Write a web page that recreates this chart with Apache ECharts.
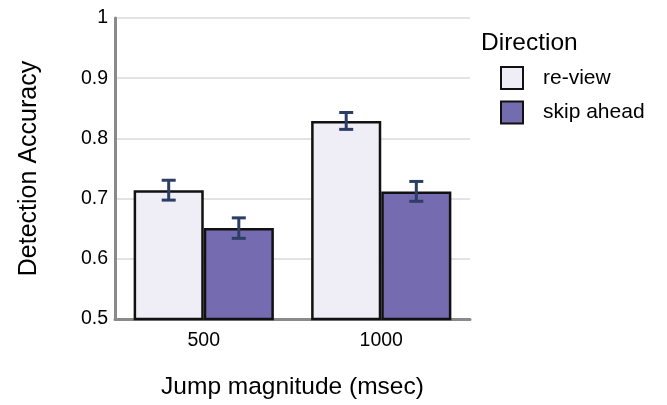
<!DOCTYPE html>
<html>
<head>
<meta charset="utf-8">
<script src="https://cdn.jsdelivr.net/npm/echarts@6/dist/echarts.min.js"></script>
<style>
  html, body { margin: 0; padding: 0; background: #ffffff; }
  #chart { width: 667px; height: 405px; }
</style>
</head>
<body>
<div id="chart"></div>
<script>
// Jump magnitudes (msec) on the x axis
const categories = ['500', '1000'];
// Mean detection accuracy per direction, with standard-error half widths
const reviewValues = [0.714, 0.829];
const reviewErrors = [0.0165, 0.014];
const skipValues = [0.651, 0.712];
const skipErrors = [0.017, 0.0165];
const seriesNames = ['re-view', 'skip ahead'];
const yTicks = [0.5, 0.6, 0.7, 0.8, 0.9, 1];

const FONT = '"Liberation Sans", Arial, Helvetica, sans-serif';
const CAT_GAP = 0.21;

// error-bar rows: [category index, low, high, side (-1 left bar, +1 right bar)]
const errorRows = [];
categories.forEach((c, i) => {
  errorRows.push([i, reviewValues[i] - reviewErrors[i], reviewValues[i] + reviewErrors[i], -1]);
  errorRows.push([i, skipValues[i] - skipErrors[i], skipValues[i] + skipErrors[i], 1]);
});

const chart = echarts.init(document.getElementById('chart'), null, { renderer: 'canvas' });

chart.setOption({
  backgroundColor: '#ffffff',
  animation: false,
  textStyle: { fontFamily: FONT },
  title: {
    text: 'Direction',
    left: 481,
    top: 31,
    padding: 0,
    textStyle: { fontFamily: FONT, fontSize: 24.5, fontWeight: 'normal', color: '#000' }
  },
  legend: {
    data: seriesNames,
    orient: 'vertical',
    left: 500,
    top: 66,
    padding: 0,
    itemWidth: 22,
    itemHeight: 22,
    itemGap: 10.5,
    icon: 'rect',
    itemStyle: { borderColor: '#111', borderWidth: 2 },
    textStyle: { fontFamily: FONT, fontSize: 21, color: '#000', padding: [0, 0, 0, 15] }
  },
  grid: { left: 115, right: 197, top: 18, bottom: 84, containLabel: false },
  xAxis: {
    type: 'category',
    data: categories,
    name: 'Jump magnitude (msec)',
    nameLocation: 'middle',
    nameGap: 56,
    nameTextStyle: { fontFamily: FONT, fontSize: 24.5, color: '#000' },
    axisLine: { show: true, lineStyle: { color: '#8a8a8a', width: 3 } },
    axisTick: { show: false },
    axisLabel: { fontFamily: FONT, fontSize: 19.5, color: '#000', margin: 12 }
  },
  yAxis: {
    type: 'value',
    min: yTicks[0],
    max: yTicks[yTicks.length - 1],
    interval: 0.1,
    name: 'Detection Accuracy',
    nameLocation: 'middle',
    nameGap: 73,
    nameTextStyle: { fontFamily: FONT, fontSize: 25, color: '#000' },
    axisLine: { show: true, lineStyle: { color: '#8a8a8a', width: 3 } },
    axisTick: { show: false },
    axisLabel: { fontFamily: FONT, fontSize: 19.5, color: '#000', margin: 7 },
    splitLine: { show: true, lineStyle: { color: '#e3e3e3', width: 2 } }
  },
  series: [
    {
      name: seriesNames[0],
      type: 'bar',
      data: reviewValues,
      barGap: '0%',
      barCategoryGap: (CAT_GAP * 100) + '%',
      itemStyle: { color: '#efedf6', borderColor: '#111', borderWidth: 2.5 }
    },
    {
      name: seriesNames[1],
      type: 'bar',
      data: skipValues,
      barGap: '0%',
      barCategoryGap: (CAT_GAP * 100) + '%',
      itemStyle: { color: '#756bb1', borderColor: '#111', borderWidth: 2.5 }
    },
    {
      name: 'error',
      type: 'custom',
      z: 10,
      data: errorRows,
      encode: { x: 0, y: [1, 2] },
      renderItem: function (params, api) {
        const cat = api.value(0);
        const lo = api.value(1);
        const hi = api.value(2);
        const side = api.value(3);
        const band = api.size([1, 0])[0];
        const barW = band * (1 - CAT_GAP) / 2;
        const x = api.coord([cat, lo])[0] + side * barW / 2;
        const yLo = api.coord([cat, lo])[1];
        const yHi = api.coord([cat, hi])[1];
        const cap = 7;
        const style = { stroke: '#2c3e63', lineWidth: 3, fill: null };
        return {
          type: 'group',
          children: [
            { type: 'line', shape: { x1: x, y1: yLo, x2: x, y2: yHi }, style: style },
            { type: 'line', shape: { x1: x - cap, y1: yHi, x2: x + cap, y2: yHi }, style: style },
            { type: 'line', shape: { x1: x - cap, y1: yLo, x2: x + cap, y2: yLo }, style: style }
          ]
        };
      }
    }
  ]
});
</script>
</body>
</html>
